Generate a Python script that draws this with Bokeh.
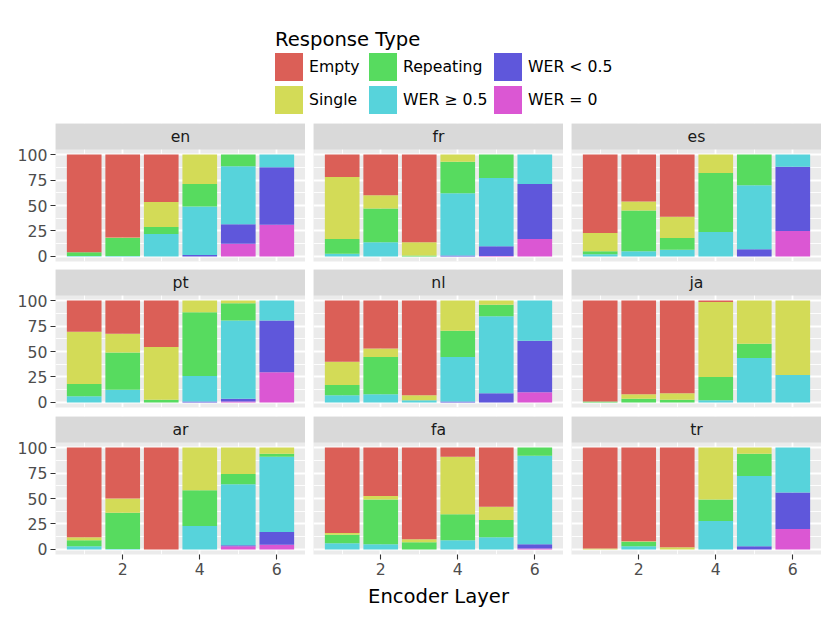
from bokeh.plotting import figure
from bokeh.layouts import column, row
from bokeh.models import (ColumnDataSource, Range1d, FixedTicker, LinearAxis, Label,
                          Legend, LegendItem, Grid, BoxAnnotation)
from bokeh.embed import file_html
from bokeh.resources import INLINE

FONT = "DejaVu Sans"

LANGS = ["en", "fr", "es", "pt", "nl", "ja", "ar", "fa", "tr"]
LAYERS = [1, 2, 3, 4, 5, 6]
CATEGORIES = ["Empty", "Single", "Repeating", "WER \u2265 0.5", "WER < 0.5", "WER = 0"]
COLORS = ["#db5f57", "#d3db57", "#57db5f", "#57d3db", "#5f57db", "#db57d3"]

EMPTY = {
    "en": [96, 81.5, 46.5, 0, 0, 0],
    "fr": [22, 40, 86, 0, 0, 0],
    "es": [77, 46, 61, 0, 0, 0],
    "pt": [30.5, 32.5, 45.5, 0, 0, 0],
    "nl": [60, 47, 93, 0, 0, 0],
    "ja": [99, 92, 91, 1.5, 0, 0],
    "ar": [88, 50, 100, 0, 0, 0],
    "fa": [84, 47.5, 90, 9, 58, 0],
    "tr": [99, 92, 98, 0, 0, 0],
}
SINGLE = {
    "en": [0, 0.5, 24.5, 29, 0, 0],
    "fr": [61, 13, 13, 7, 0, 0],
    "es": [18, 9, 21, 18, 0, 0],
    "pt": [51.5, 18.5, 52, 11.5, 2.5, 0],
    "nl": [23, 8.5, 5, 29.5, 4, 0],
    "ja": [0, 4.5, 6.5, 73.5, 42.5, 73],
    "ar": [3, 14, 0, 42, 26, 6],
    "fa": [1.5, 3.5, 3, 56.5, 13, 0],
    "tr": [1, 0.5, 2, 51, 6, 0],
}
REPEATING = {
    "en": [3.5, 17.5, 7, 22, 11.5, 0],
    "fr": [14.5, 33, 1, 31, 23, 0],
    "es": [3, 40, 11.5, 58, 30, 0],
    "pt": [12, 36.5, 2.5, 62.5, 17, 0],
    "nl": [10, 36.5, 0, 26, 11.5, 0],
    "ja": [1, 3.5, 2.5, 23, 14, 0],
    "ar": [6, 35.5, 0, 35, 10, 3],
    "fa": [8.5, 44, 7, 25.5, 17, 8],
    "tr": [0, 4.5, 0, 21, 22, 0],
}
WER_HI = {
    "en": [0.5, 0.5, 22, 47.5, 57, 12.5],
    "fr": [2.5, 14, 0, 61, 67, 29],
    "es": [2, 5, 6.5, 24, 63, 12],
    "pt": [6, 12.5, 0, 25, 77, 19.5],
    "nl": [7, 8, 2, 43.5, 75.5, 39.5],
    "ja": [0, 0, 0, 2, 43.5, 27],
    "ar": [3, 0.5, 0, 23, 60, 74],
    "fa": [6, 5, 0, 9, 12, 87],
    "tr": [0, 3, 0, 28, 69, 44],
}
WER_LO = {
    "en": [0, 0, 0, 1.5, 19, 56.5],
    "fr": [0, 0, 0, 1, 9.5, 54],
    "es": [0, 0, 0, 0, 7, 63],
    "pt": [0, 0, 0, 1, 2.5, 51],
    "nl": [0, 0, 0, 1, 9, 50.5],
    "ja": [0, 0, 0, 0, 0, 0],
    "ar": [0, 0, 0, 0, 1, 12.5],
    "fa": [0, 0, 0, 0, 0, 4],
    "tr": [0, 0, 0, 0, 3, 36],
}
WER_0 = {
    "en": [0, 0, 0, 0, 12.5, 31],
    "fr": [0, 0, 0, 0, 0.5, 17],
    "es": [0, 0, 0, 0, 0, 25],
    "pt": [0, 0, 0, 0, 1, 29.5],
    "nl": [0, 0, 0, 0, 0, 10],
    "ja": [0, 0, 0, 0, 0, 0],
    "ar": [0, 0, 0, 0, 3, 4.5],
    "fa": [0, 0, 0, 0, 0, 1],
    "tr": [0, 0, 0, 0, 0, 20],
}

X_TICKS = [2, 4, 6]
Y_TICKS = [0, 25, 50, 75, 100]

# stacking order bottom -> top
STACK_KEYS = ["w0", "wlo", "whi", "rep", "single", "empty"]
STACK_DATA = [WER_0, WER_LO, WER_HI, REPEATING, SINGLE, EMPTY]
STACK_COLORS = [COLORS[5], COLORS[4], COLORS[3], COLORS[2], COLORS[1], COLORS[0]]

SMALL = "15.7px"
BIG = "19.6px"

FRAME_W = 250
PANEL_H = 112          # data panel height (px)
STRIP_H = 26           # facet strip height (px)
Y_LO, Y_HI = -5, 105   # expanded data range
STRIP_UNITS = STRIP_H * (Y_HI - Y_LO) / PANEL_H
TOP_BORDER = [0, 3, 4]
BOTTOM_BORDER = [5, 5, 58]
COL_LEFT = [55, 8, 8]


def strip_grids(p):
    p.center = [g for g in p.center if not isinstance(g, Grid)]


def style_axis(ax):
    ax.major_label_text_font = FONT
    ax.major_label_text_font_size = SMALL
    ax.major_label_text_color = "#4d4d4d"
    ax.major_tick_line_color = "#333333"
    ax.major_tick_line_width = 1.1
    ax.major_tick_out = 5
    ax.major_tick_in = 0
    ax.minor_tick_line_color = None
    ax.axis_line_color = None


def make_panel(lang, r, c):
    data = dict(layer=LAYERS)
    for k, d in zip(STACK_KEYS, STACK_DATA):
        data[k] = d[lang]
    src = ColumnDataSource(data)
    p = figure(frame_width=FRAME_W, frame_height=PANEL_H + STRIP_H, x_range=Range1d(0.255, 6.745),
               y_range=Range1d(Y_LO, Y_HI + STRIP_UNITS), x_axis_location=None, y_axis_location=None,
               toolbar_location=None, output_backend="svg", title=None,
               min_border_left=COL_LEFT[c], min_border_right=0, min_border_top=TOP_BORDER[r],
               min_border_bottom=BOTTOM_BORDER[r])
    strip_grids(p)
    p.background_fill_color = "#ebebeb"
    p.border_fill_color = "white"
    p.outline_line_color = None
    xg = Grid(dimension=0, ticker=FixedTicker(ticks=X_TICKS, minor_ticks=[1, 3, 5]),
              grid_line_color="white", grid_line_width=1.8,
              minor_grid_line_color="white", minor_grid_line_width=0.9)
    yg = Grid(dimension=1, ticker=FixedTicker(ticks=Y_TICKS, minor_ticks=[12.5, 37.5, 62.5, 87.5]),
              grid_line_color="white", grid_line_width=1.8,
              minor_grid_line_color="white", minor_grid_line_width=0.9)
    p.add_layout(xg, "center")
    p.add_layout(yg, "center")
    p.vbar_stack(STACK_KEYS, x="layer", width=0.9, fill_color=STACK_COLORS, line_color=None, source=src)
    # facet strip
    p.add_layout(BoxAnnotation(bottom=Y_HI, fill_color="#d9d9d9", fill_alpha=1.0,
                               line_color=None, line_alpha=0))
    p.add_layout(Label(x=3.5, y=Y_HI + STRIP_UNITS / 2, text=lang, text_align="center",
                       text_baseline="middle", text_font=FONT, text_font_size=SMALL,
                       text_color="#1a1a1a"))
    if c == 0:
        ya = LinearAxis(ticker=FixedTicker(ticks=Y_TICKS))
        style_axis(ya)
        ya.major_label_standoff = 3
        p.add_layout(ya, "left")
    if r == 2:
        xa = LinearAxis(ticker=FixedTicker(ticks=X_TICKS))
        style_axis(xa)
        xa.major_label_standoff = 3
        if c == 1:
            xa.axis_label = "Encoder Layer"
            xa.axis_label_text_font = FONT
            xa.axis_label_text_font_size = BIG
            xa.axis_label_text_font_style = "normal"
            xa.axis_label_text_color = "black"
            xa.axis_label_standoff = 7
        p.add_layout(xa, "below")
    return p


# legend figure (1 data unit = 1 px)
lf = figure(frame_width=830, frame_height=123, x_range=Range1d(0, 830), y_range=Range1d(0, 123),
            x_axis_location=None, y_axis_location=None, toolbar_location=None,
            output_backend="svg", title=None, min_border=0)
strip_grids(lf)
lf.outline_line_color = None
lf.border_fill_color = "white"
lf.background_fill_color = "white"
# legend-only renderers: zero-height bars, nothing visible is drawn
dummies = [lf.vbar(x=[415], top=[0], bottom=[0], width=0, fill_color=col, line_color=None)
           for col in COLORS]
lf.add_layout(Label(x=274.5, y=84, text="Response Type", text_align="left", text_baseline="alphabetic",
                    text_font=FONT, text_font_size=BIG, text_color="black"))
LEG_X = [271, 365, 490]
LEG_Y = [39, 6]
for i, cat in enumerate(CATEGORIES):
    col_i, row_i = i // 2, i % 2
    leg = Legend(items=[LegendItem(label=cat, renderers=[dummies[i]])],
                 location=(LEG_X[col_i], LEG_Y[row_i]), orientation="vertical",
                 glyph_width=35, glyph_height=35, spacing=0, padding=0, margin=0,
                 label_standoff=3, label_text_font=FONT, label_text_font_size=SMALL,
                 label_text_color="black", border_line_color=None, background_fill_alpha=0)
    lf.add_layout(leg, "center")

cols = []
for c in range(3):
    cols.append(column(*[make_panel(LANGS[r * 3 + c], r, c) for r in range(3)]))

layout = column(lf, row(*cols))

open("out.html", "w").write(file_html(layout, INLINE))
